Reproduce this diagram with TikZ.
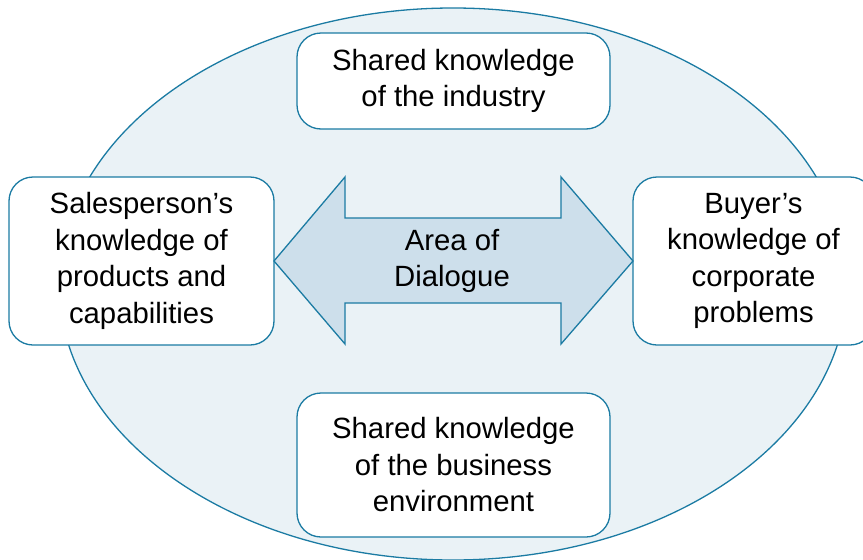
\documentclass[tikz,border=0pt]{standalone}
\usepackage{fontspec}
\setmainfont{Liberation Sans}
\definecolor{edgeblue}{HTML}{1B7BA3}
\definecolor{ellfill}{HTML}{EAF2F6}
\definecolor{arrfill}{HTML}{CDDFEB}
\begin{document}
\begin{tikzpicture}[x=1pt,y=-1pt,
  txt/.style={align=center, font=\fontsize{29.3}{36.5}\selectfont, inner sep=0pt},
  box/.style={txt, draw=edgeblue, line width=1.3pt, fill=white, rounded corners=24pt},
  outline/.style={draw=edgeblue, line width=1.3pt}]
\useasboundingbox (0,0) rectangle (863,560);
\draw[outline, fill=ellfill] (453,284) ellipse [x radius=394, y radius=276];
\node[box, minimum width=313pt, minimum height=96pt] (top) at (453.5,81) {Shared knowledge\\of the industry};
\node[box, minimum width=265pt, minimum height=168pt] (left) at (141.5,261) {Salesperson’s\\knowledge of\\products and\\capabilities};
\node[box, minimum width=241pt, minimum height=168pt] (right) at (753.5,261) {Buyer’s\\knowledge of\\corporate\\problems};
\node[box, minimum width=313pt, minimum height=144pt] (bottom) at (453.5,465) {Shared knowledge\\of the business\\environment};
\coordinate (ltip) at (274,261);
\coordinate (rtip) at (633,261);
\draw[outline, fill=arrfill, line join=miter] (ltip) -- (345,177) -- (345,218) -- (561,218) -- (561,177) -- (rtip) -- (561,344) -- (561,303) -- (345,303) -- (345,344) -- cycle;
\node[txt] (dia) at (452,261) {Area of\\Dialogue};
\end{tikzpicture}
\end{document}
